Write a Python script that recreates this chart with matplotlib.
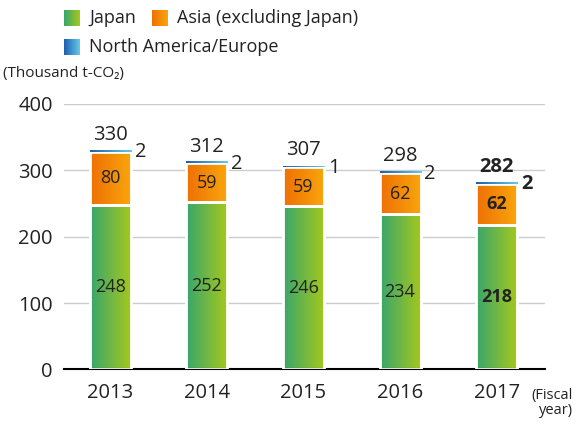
import numpy as np
import matplotlib
matplotlib.use("Agg")
from matplotlib import pyplot as plt
from matplotlib.colors import LinearSegmentedColormap

years = ["2013", "2014", "2015", "2016", "2017"]
japan = [248, 252, 246, 234, 218]
asia = [80, 59, 59, 62, 62]
na_eu = [2, 2, 1, 2, 2]
totals = [330, 312, 307, 298, 282]

plt.rcParams['font.family'] = ['Open Sans', 'DejaVu Sans']
txt = '#222222'

green = LinearSegmentedColormap.from_list('g', ['#38a66c', '#a6c81c'])
orange = LinearSegmentedColormap.from_list('o', ['#ee7004', '#f9a60c'])
blue = LinearSegmentedColormap.from_list('b', ['#1f5fae', '#64cbe8'])
grad = np.linspace(0, 1, 64).reshape(1, -1)


def fill_gradient(ax, bars, cmap, z=2, clip=True):
    # paint each bar with a left-to-right gradient
    for b in bars:
        x0, y0 = b.get_x(), b.get_y()
        im = ax.imshow(grad, cmap=cmap, aspect='auto', zorder=z,
                       extent=(x0, x0 + b.get_width(), y0, y0 + b.get_height()))
        if clip:
            im.set_clip_path(b)


fig = plt.figure(figsize=(5.76, 4.25), dpi=100)
ax = fig.add_axes([0.111, 0.1306, 0.835, 0.625])

x = np.arange(len(years))
w = 0.425
bottom2 = np.array(japan)
bottom3 = bottom2 + np.array(asia)

b1 = ax.bar(x, japan, w, color='none', edgecolor='white', lw=2, zorder=3)
b2 = ax.bar(x, asia, w, bottom=bottom2, color='none', edgecolor='white', lw=2, zorder=3)
b3 = ax.bar(x, na_eu, w, bottom=bottom3, color='none', lw=0, zorder=4)
fill_gradient(ax, b1, green)
fill_gradient(ax, b2, orange)
fill_gradient(ax, b3, blue, z=4, clip=False)

for i in range(len(years)):
    fw = 'bold' if i == len(years) - 1 else 'normal'
    ax.text(x[i], japan[i] / 2, str(japan[i]), ha='center', va='center',
            fontsize=13, color=txt, weight=fw, zorder=5)
    ax.text(x[i], japan[i] + asia[i] / 2, str(asia[i]), ha='center', va='center',
            fontsize=13, color=txt, weight=fw, zorder=5)
    ax.text(x[i], totals[i] + 8, str(totals[i]), ha='center', va='bottom',
            fontsize=14.5, color=txt, weight=fw, zorder=5)
    ax.text(x[i] + w / 2 + 0.04, totals[i] - 3, str(na_eu[i]), ha='left', va='center',
            fontsize=14.5, color=txt, weight=fw, zorder=5)

ax.set_xlim(-0.48, 4.5)
ax.set_ylim(0, 400)
ax.set_yticks([0, 100, 200, 300, 400])
ax.set_xticks(x)
ax.set_xticklabels(years)
ax.tick_params(length=0, labelsize=14.5, labelcolor=txt)
ax.tick_params(axis='y', pad=8)
ax.tick_params(axis='x', pad=10)
ax.grid(axis='y', color='#cccccc', lw=1)
ax.set_axisbelow(True)
for s in ['top', 'right', 'left']:
    ax.spines[s].set_visible(False)
ax.spines['bottom'].set_color('black')
ax.spines['bottom'].set_linewidth(1.5)


# legend with gradient squares
def legend_item(fx, fy, cmap, label):
    lax = fig.add_axes([fx, fy, 16 / 576, 16 / 425])
    lax.imshow(grad, cmap=cmap, aspect='auto')
    lax.axis('off')
    fig.text(fx + 25 / 576, fy + 8 / 425, label, fontsize=13, color=txt, va='center')


legend_item(64 / 576, 1 - 26 / 425, green, 'Japan')
legend_item(152 / 576, 1 - 26 / 425, orange, 'Asia (excluding Japan)')
legend_item(64 / 576, 1 - 55 / 425, blue, 'North America/Europe')

fig.text(3 / 576, 1 - 74 / 425, '(Thousand t-CO\u2082)', fontsize=11, color=txt, va='center')
fig.text(1 - 3 / 576, 1 - 395 / 425, '(Fiscal', fontsize=10.5, color=txt, ha='right', va='center')
fig.text(1 - 3 / 576, 1 - 411 / 425, 'year)', fontsize=10.5, color=txt, ha='right', va='center')

fig.savefig('out.png', dpi=100)
